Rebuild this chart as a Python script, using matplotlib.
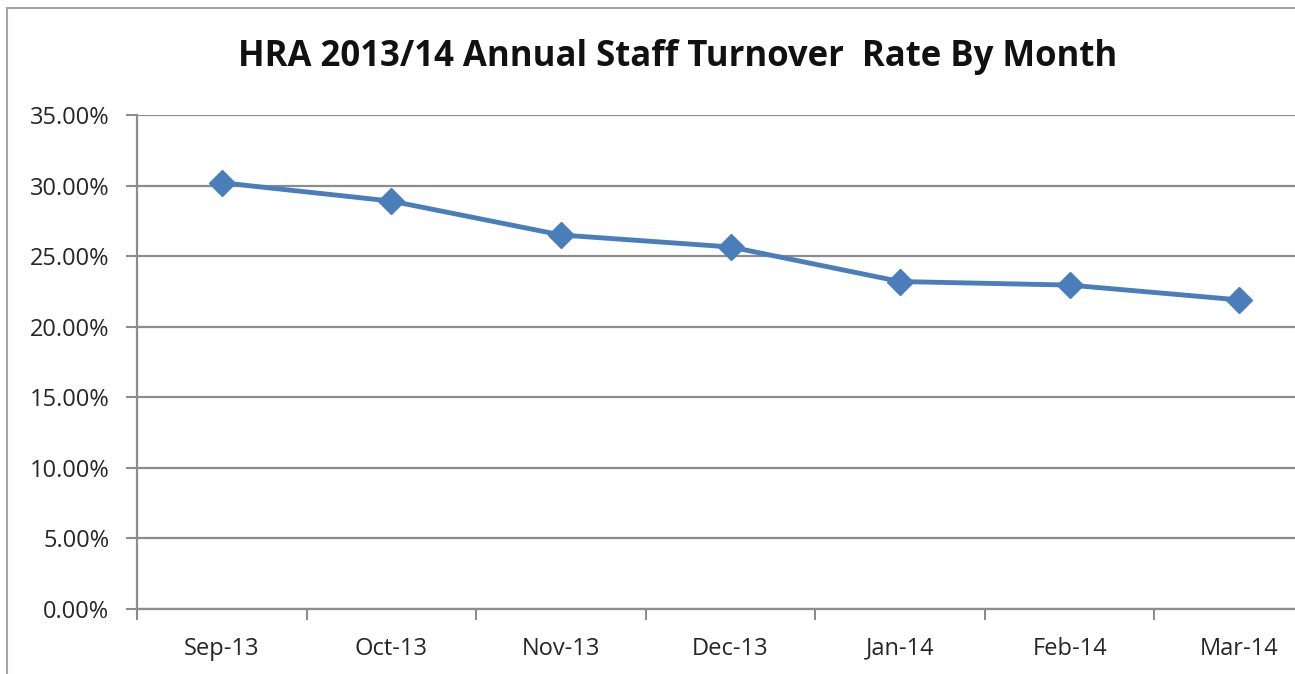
import matplotlib.pyplot as plt
from matplotlib.patches import Rectangle
from matplotlib.ticker import FixedLocator, FuncFormatter

meses = ["Sep-13", "Oct-13", "Nov-13", "Dec-13", "Jan-14", "Feb-14", "Mar-14"]
tasa = [30.2, 28.9, 26.5, 25.65, 23.2, 22.95, 21.9]
y_ticks = [0, 5, 10, 15, 20, 25, 30, 35]

W, H = 1295, 674
fig = plt.figure(figsize=(W / 100, H / 100), dpi=100)

# marco del gráfico (recortado a la derecha y abajo)
fig.patches.append(Rectangle((7 / W, -0.1), 1.2, 1.1 - 8 / H,
                             transform=fig.transFigure, fill=False,
                             edgecolor="#a6a6a6", linewidth=1.5))

ax = fig.add_axes([137 / W, 65 / H, (1324 - 137) / W, (609 - 115) / H])
x = range(len(meses))
ax.plot(x, tasa, color="#4a7ebb", linewidth=3.5, marker="D",
        markersize=13, zorder=3, solid_capstyle="round")

ax.set_xlim(-0.5, len(meses) - 0.5)
ax.set_ylim(0, 35)
ax.set_yticks(y_ticks)
ax.yaxis.set_major_formatter(FuncFormatter(lambda v, _: f"{v:.2f}%"))
ax.grid(axis="y", color="#8c8c8c", linewidth=1.6)
ax.set_axisbelow(True)

ax.set_xticks(list(x))
ax.set_xticklabels(meses)
ax.xaxis.set_minor_locator(FixedLocator([i - 0.5 for i in range(len(meses) + 1)]))
ax.tick_params(axis="x", which="major", length=0, pad=20, labelsize=17,
               labelcolor="#262626")
ax.tick_params(axis="x", which="minor", length=8, width=1.5, color="#8c8c8c")
ax.tick_params(axis="y", length=8, width=1.5, color="#8c8c8c", pad=12,
               labelsize=17, labelcolor="#262626")
for lab in ax.get_xticklabels() + ax.get_yticklabels():
    lab.set_family("Open Sans")

for s in ["top", "right"]:
    ax.spines[s].set_visible(False)
for s in ["left", "bottom"]:
    ax.spines[s].set_color("#8c8c8c")
    ax.spines[s].set_linewidth(1.6)

fig.text(678 / W, 1 - 57 / H, "HRA 2013/14 Annual Staff Turnover  Rate By Month",
         ha="center", va="center", fontsize=25, fontweight="bold",
         family="Open Sans", color="#111111")

fig.savefig("out.png", dpi=100)
